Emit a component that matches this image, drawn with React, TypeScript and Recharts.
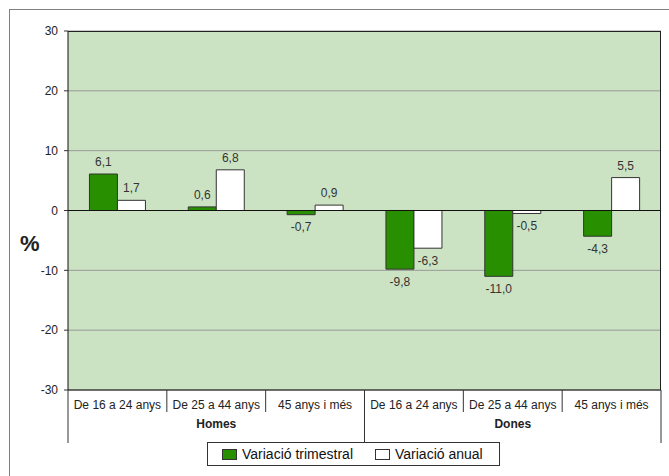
import React from "react"
import { BarChart, Bar, XAxis, YAxis, CartesianGrid, ReferenceLine, LabelList, Legend } from "recharts"

const categories = [
  "De 16 a 24 anys",
  "De 25 a 44 anys",
  "45 anys i més",
  "De 16 a 24 anys",
  "De 25 a 44 anys",
  "45 anys i més",
]
const groups = ["Homes", "Dones"]
const trimestral = [6.1, 0.6, -0.7, -9.8, -11.0, -4.3]
const anual = [1.7, 6.8, 0.9, -6.3, -0.5, 5.5]
const yTicks = [-30, -20, -10, 0, 10, 20, 30]

const seriesNames = { trimestral: "Variació trimestral", anual: "Variació anual" }

const W = 669
const H = 476
const margin = { top: 31, right: 8, bottom: 26, left: 8 }
const yAxisWidth = 60
const xAxisHeight = 60
const plotLeft = margin.left + yAxisWidth
const plotTop = margin.top
const plotW = W - margin.right - plotLeft
const plotH = H - margin.bottom - xAxisHeight - plotTop

const FONT = '"Liberation Sans", Arial, sans-serif'
const GREEN = "#289000"
const BG = "#cce3c3"

const data = categories.map((c, i) => ({
  name: c,
  trimestral: trimestral[i],
  anual: anual[i],
}))

const fmt = (v: number) => v.toFixed(1).replace(".", ",")

function CategoryTick(props: any) {
  const { x, y, payload, index } = props
  const bw = plotW / categories.length
  const per = categories.length / groups.length
  const left = x - bw / 2
  const right = x + bw / 2
  const groupStart = index % per === 0
  const isLast = index === categories.length - 1
  const groupMid = index % per === Math.floor(per / 2)
  return (
    <g>
      <line x1={left} y1={y} x2={left} y2={y + (groupStart ? 53 : 22)} stroke="#333" />
      {isLast && <line x1={right} y1={y} x2={right} y2={y + 53} stroke="#333" />}
      <text x={x} y={y + 19} textAnchor="middle" fontSize={12} fill="#222" fontFamily={FONT}>
        {payload.value}
      </text>
      {groupMid && (
        <text x={x} y={y + 38} textAnchor="middle" fontSize={12} fontWeight="bold" fill="#222" fontFamily={FONT}>
          {groups[Math.floor(index / per)]}
        </text>
      )}
    </g>
  )
}

function LegendBox() {
  const item = (fill: string, label: string) => (
    <span style={{ display: "inline-flex", alignItems: "center", marginRight: 22 }}>
      <span
        style={{
          display: "inline-block",
          width: 13,
          height: 9,
          background: fill,
          border: "1px solid #333",
          marginRight: 5,
        }}
      />
      {label}
    </span>
  )
  return (
    <div
      style={{
        border: "1px solid #333",
        background: "#fff",
        height: 24,
        boxSizing: "border-box",
        display: "flex",
        alignItems: "center",
        paddingLeft: 14,
        fontFamily: FONT,
        fontSize: 14,
        color: "#111",
        whiteSpace: "nowrap",
      }}
    >
      {item(GREEN, seriesNames.trimestral)}
      {item("#fff", seriesNames.anual)}
    </div>
  )
}

export default function App() {
  return (
    <div style={{ position: "absolute", left: 0, top: 0, width: W, height: H, background: "#fff" }}>
      <div style={{ position: "absolute", left: 0, top: 0 }}>
        <BarChart
          width={W}
          height={H}
          data={data}
          margin={margin}
          barCategoryGap="21.7%"
          barGap={0}
        >
          <CartesianGrid vertical={false} stroke="#999" fill={BG} />
          <XAxis
            dataKey="name"
            height={xAxisHeight}
            axisLine={{ stroke: "#111" }}
            tickLine={false}
            tickSize={0}
            tickMargin={0}
            interval={0}
            tick={<CategoryTick />}
          />
          <YAxis
            width={yAxisWidth}
            domain={[-30, 30]}
            ticks={yTicks}
            interval={0}
            axisLine={{ stroke: "#111" }}
            tickLine={{ stroke: "#333" }}
            tickSize={4}
            tickMargin={6}
            tick={{ fontSize: 12, fill: "#222", fontFamily: FONT }}
            label={{
              value: "%",
              position: "insideLeft",
              offset: 12,
              dy: 33,
              style: { fontSize: 22, fontWeight: "bold", fill: "#222", fontFamily: FONT },
            }}
          />
          <ReferenceLine y={0} stroke="#111" />
          <Legend
            layout="horizontal"
            verticalAlign="middle"
            align="center"
            wrapperStyle={{ left: 207, top: 442, width: 293 }}
            content={<LegendBox />}
          />
          <Bar dataKey="trimestral" name={seriesNames.trimestral} fill={GREEN} stroke="#333" isAnimationActive={false}>
            <LabelList
              dataKey="trimestral"
              position="top"
              offset={8}
              formatter={(v: any) => fmt(Number(v))}
              style={{ fontSize: 12, fill: "#333", fontFamily: FONT }}
            />
          </Bar>
          <Bar dataKey="anual" name={seriesNames.anual} fill="#fff" stroke="#333" isAnimationActive={false}>
            <LabelList
              dataKey="anual"
              position="top"
              offset={8}
              formatter={(v: any) => fmt(Number(v))}
              style={{ fontSize: 12, fill: "#333", fontFamily: FONT }}
            />
          </Bar>
        </BarChart>
      </div>
      <div
        style={{
          position: "absolute",
          left: 9,
          top: 9,
          width: W - 9,
          height: H - 9,
          borderTop: "1px solid #808080",
          borderLeft: "1px solid #808080",
          boxSizing: "border-box",
          pointerEvents: "none",
          zIndex: 5,
        }}
      />
      <div
        style={{
          position: "absolute",
          left: plotLeft,
          top: plotTop,
          width: plotW,
          height: plotH,
          borderTop: "1px solid #222",
          borderRight: "1px solid #222",
          boxSizing: "border-box",
          pointerEvents: "none",
          zIndex: 5,
        }}
      />
    </div>
  )
}
